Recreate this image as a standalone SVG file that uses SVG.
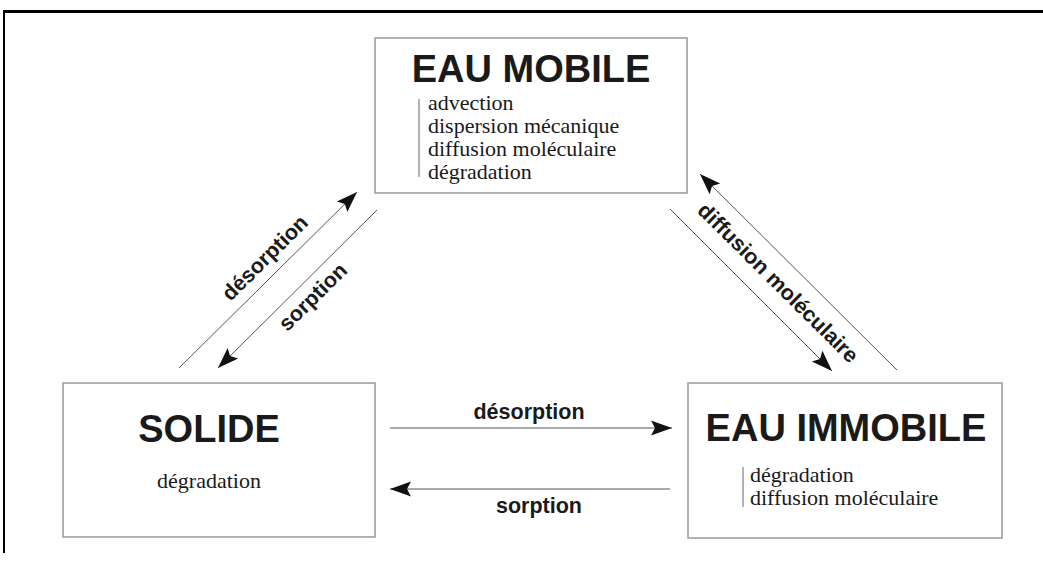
<svg xmlns="http://www.w3.org/2000/svg" width="1043" height="563" viewBox="0 0 1043 563">
<style>
.box{fill:#fff;stroke:#9a9a9a;stroke-width:1.5}
.title{font-family:"Liberation Sans",Arial,sans-serif;font-weight:bold;font-size:38px;fill:#1a1a1a}
.body{font-family:"Liberation Serif","Times New Roman",serif;font-size:22px;fill:#1a1a1a}
.lab{font-family:"Liberation Sans",Arial,sans-serif;font-weight:bold;font-size:21.5px;fill:#1a1a1a}
.bar{stroke:#9a9a9a;stroke-width:1.5}
.con{stroke:#555;stroke-width:1;fill:none;marker-end:url(#ah)}
.frame{stroke:#000;fill:none}
</style>
<defs>
<marker id="ah" markerUnits="userSpaceOnUse" markerWidth="24" markerHeight="18" viewBox="-22 -9 24 18" refX="0" refY="0" orient="auto">
<path d="M0,0 L-21,-7.5 L-17,0 L-21,7.5 z" fill="#111"/>
</marker>
</defs>
<rect width="1043" height="563" fill="#fff"/>
<line class="frame" x1="3" y1="11.5" x2="1043" y2="11.5" stroke-width="3"/>
<line class="frame" x1="4" y1="10" x2="4" y2="553" stroke-width="2"/>

<g id="eau-mobile">
<rect class="box" x="375" y="38" width="312" height="155"/>
<text class="title" x="531" y="82" text-anchor="middle">EAU MOBILE</text>
<line class="bar" x1="419" y1="99" x2="419" y2="177"/>
<text class="body" x="428" y="110">advection</text>
<text class="body" x="428" y="133">dispersion mécanique</text>
<text class="body" x="428" y="156">diffusion moléculaire</text>
<text class="body" x="428" y="179">dégradation</text>
</g>

<g id="solide">
<rect class="box" x="63" y="383" width="312" height="154"/>
<text class="title" x="209" y="442" text-anchor="middle">SOLIDE</text>
<text class="body" x="209" y="488" text-anchor="middle">dégradation</text>
</g>

<g id="eau-immobile">
<rect class="box" x="688" y="383" width="314" height="155"/>
<text class="title" x="846" y="441" text-anchor="middle">EAU IMMOBILE</text>
<line class="bar" x1="743" y1="467" x2="743" y2="507"/>
<text class="body" x="750" y="482">dégradation</text>
<text class="body" x="750" y="505">diffusion moléculaire</text>
</g>

<g id="connectors">
<line class="con" x1="179" y1="368" x2="357" y2="192"/>
<line class="con" x1="377" y1="210" x2="218" y2="368"/>
<line class="con" x1="670" y1="209" x2="832" y2="371"/>
<line class="con" x1="897" y1="370" x2="700" y2="174"/>
<line class="con" x1="390" y1="428" x2="672" y2="428"/>
<line class="con" x1="670" y1="489" x2="390" y2="489"/>
<text class="lab" transform="translate(265,258) rotate(-44.7)" x="0" y="7" text-anchor="middle">désorption</text>
<text class="lab" transform="translate(313,297) rotate(-44.7)" x="0" y="7" text-anchor="middle">sorption</text>
<text class="lab" transform="translate(778,283) rotate(44.8)" x="0" y="7" text-anchor="middle">diffusion moléculaire</text>
<text class="lab" x="529" y="419" text-anchor="middle">désorption</text>
<text class="lab" x="539" y="513" text-anchor="middle">sorption</text>
</g>
</svg>
